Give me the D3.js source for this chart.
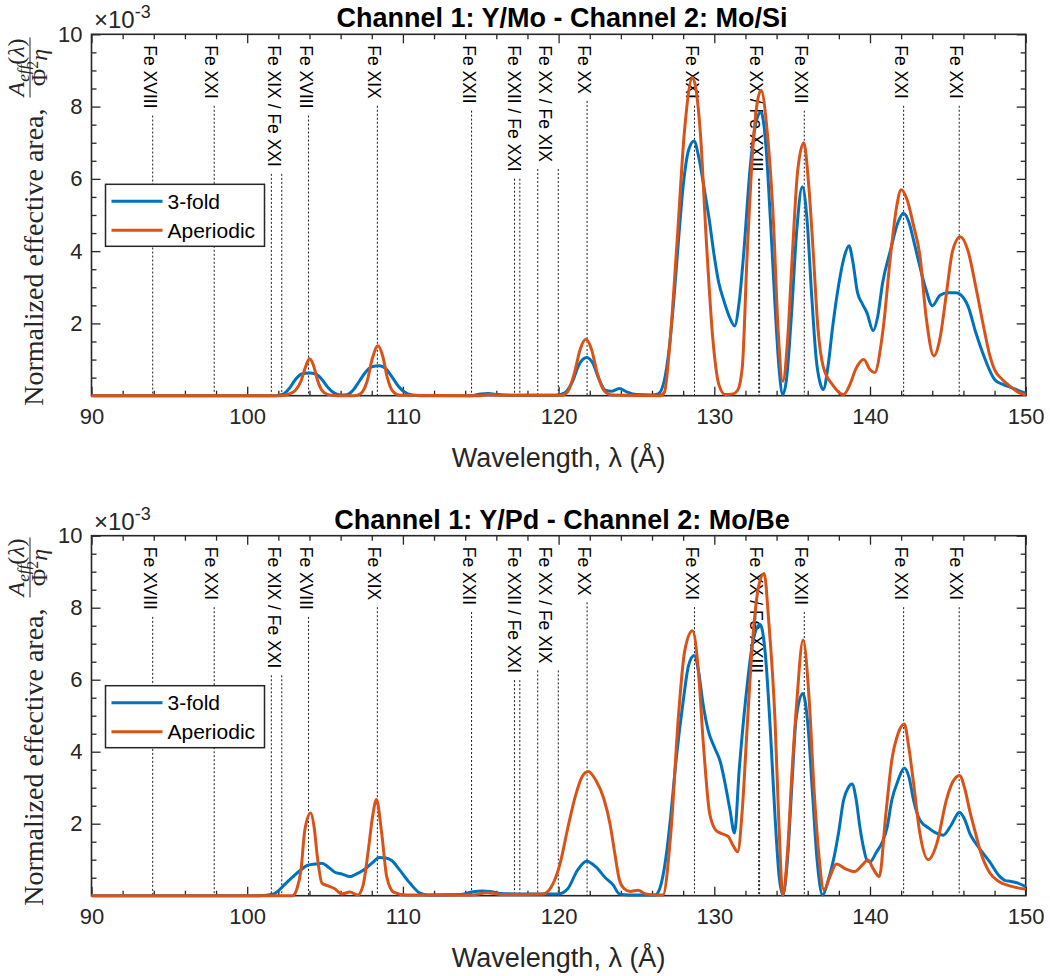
<!DOCTYPE html>
<html>
<head>
<meta charset="utf-8">
<script src="https://cdn.jsdelivr.net/npm/d3@7"></script>
<style>
body { margin: 0; background: #fff; }
svg text { font-family: "Liberation Sans", Arial, Helvetica, sans-serif; }
svg text.serif { font-family: "Liberation Serif", "Times New Roman", serif; }
</style>
</head>
<body>
<svg id="chart" width="1050" height="976"></svg>
<script>
// ---- data (values in units of 1e-3) ----
var panelTitles = ['Channel 1: Y/Mo - Channel 2: Mo/Si',
                   'Channel 1: Y/Pd - Channel 2: Mo/Be'];
var seriesNames = ['3-fold', 'Aperiodic'];
var xTicks = [90, 100, 110, 120, 130, 140, 150];
var yTicks = [2, 4, 6, 8, 10];

// Fe lines, wavelength(s) in angstrom and label
var lineWaves = [[93.93], [97.88], [101.55, 102.22], [103.94], [108.36], [114.41],
                 [117.17, 117.51], [118.66, 119.98], [121.83], [128.73],
                 [132.85, 132.91], [135.78], [142.16], [145.73]];
var lineNames = ['Fe XVIII', 'Fe XXI', 'Fe XIX / Fe XXI', 'Fe XVIII', 'Fe XIX', 'Fe XXII',
                 'Fe XXII / Fe XXI', 'Fe XX / Fe XIX', 'Fe XX', 'Fe XXI',
                 'Fe XX / Fe XXIII', 'Fe XXII', 'Fe XXI', 'Fe XXI'];

// top panel, Y/Mo - Mo/Si
var moSiFold = [[90,0],[101.8,0],[102.3,0.04],[102.7,0.2],[103.1,0.45],[103.5,0.6],[104.0,0.63],
  [104.4,0.6],[104.8,0.45],[105.2,0.22],[105.6,0.07],[106.0,0.02],[106.4,0.03],[106.8,0.15],
  [107.2,0.4],[107.6,0.65],[108.0,0.8],[108.5,0.83],[108.9,0.75],[109.3,0.52],[109.7,0.27],
  [110.1,0.1],[110.6,0.02],[111.2,0],[114.4,0],[115.0,0.05],[115.5,0.06],[116.1,0.03],[117,0.01],
  [119.8,0.01],[120.4,0.08],[120.9,0.4],[121.3,0.85],[121.8,1.06],[122.2,0.9],[122.6,0.45],
  [123.0,0.15],[123.4,0.12],[123.9,0.2],[124.4,0.1],[125,0.03],[126.0,0.02],[126.4,0.05],
  [126.8,0.44],[127.1,1.3],[127.4,2.65],[127.7,4.3],[128.0,5.8],[128.35,6.8],[128.7,7.05],
  [129.0,6.6],[129.4,5.6],[129.7,4.8],[129.95,4.0],[130.3,3.1],[130.6,2.65],[131.0,2.15],
  [131.3,1.93],[131.6,2.6],[131.9,4.0],[132.3,6.3],[132.7,7.6],[133.0,7.85],[133.3,7.0],
  [133.6,4.9],[133.9,2.5],[134.15,0.8],[134.4,0.03],[134.65,0.5],[134.95,2.2],[135.3,4.6],
  [135.65,5.78],[135.95,4.9],[136.25,2.8],[136.55,1.0],[136.8,0.35],[137.0,0.17],[137.3,0.8],
  [137.6,1.9],[138.0,3.1],[138.35,3.85],[138.65,4.15],[138.9,3.7],[139.2,2.85],[139.5,2.55],
  [139.8,2.3],[140.2,1.8],[140.5,2.2],[140.8,3.1],[141.3,4.0],[141.8,4.8],[142.15,5.05],
  [142.5,4.8],[142.8,4.3],[143.1,3.76],[143.6,2.93],[144.0,2.49],[144.5,2.78],[145.0,2.85],
  [145.5,2.85],[145.8,2.8],[146.3,2.47],[146.8,1.74],[147.4,1.0],[148.0,0.45],[148.5,0.32],
  [149.0,0.24],[149.5,0.15],[150,0.07]];
var moSiAper = [[90,0],[102.2,0],[102.7,0.05],[103.1,0.15],[103.45,0.4],[103.75,0.8],[104.0,1.02],
  [104.25,0.85],[104.5,0.45],[104.8,0.15],[105.2,0.03],[105.8,0],[106.9,0],[107.3,0.06],
  [107.7,0.4],[108.05,1.05],[108.4,1.38],[108.7,1.1],[109.0,0.5],[109.35,0.12],[109.8,0.01],
  [114.8,0],[115.5,0.03],[116.5,0.01],[120.2,0.01],[120.6,0.12],[121.0,0.6],[121.4,1.3],
  [121.75,1.56],[122.1,1.3],[122.5,0.6],[122.9,0.15],[123.4,0.02],[126.5,0],[126.8,0.1],
  [127.1,1.2],[127.6,4.2],[128.1,7.4],[128.6,8.8],[129.1,7.3],[129.5,4.2],[129.9,1.6],
  [130.3,0.3],[130.7,0.03],[131.2,0.05],[131.5,0.15],[131.8,0.8],[132.1,3.8],[132.5,7.0],
  [133.0,8.45],[133.4,7.3],[133.8,4.8],[134.1,1.8],[134.4,0.4],[134.7,1.5],[135.0,3.8],
  [135.35,6.2],[135.75,7.0],[136.05,5.9],[136.35,4.0],[136.65,1.9],[137.0,0.8],[137.6,0.3],
  [138.3,0.03],[138.7,0.3],[139.1,0.75],[139.6,1.0],[140.0,0.72],[140.3,0.64],[140.8,1.7],
  [141.35,4.0],[141.7,5.2],[142.0,5.7],[142.4,5.4],[142.8,4.7],[143.2,3.9],[143.6,2.2],
  [144.1,1.1],[144.5,1.6],[144.9,2.8],[145.3,4.0],[145.8,4.4],[146.3,4.0],[146.8,3.0],
  [147.3,1.9],[147.7,1.1],[148.0,0.72],[148.5,0.45],[149.0,0.26],[149.5,0.1],[150,0.02]];

// bottom panel, Y/Pd - Mo/Be
var moBeFold = [[90,0],[100.8,0],[101.7,0.05],[102.5,0.35],[103.0,0.55],[103.4,0.7],[103.9,0.85],
  [104.4,0.88],[104.8,0.9],[105.2,0.8],[105.6,0.66],[106.1,0.6],[106.6,0.53],[107.0,0.6],
  [107.5,0.72],[108.0,0.9],[108.5,1.06],[108.9,1.05],[109.3,0.97],[109.8,0.71],[110.45,0.35],
  [111.1,0.07],[111.6,0.02],[113.7,0.03],[114.4,0.1],[115.1,0.13],[115.6,0.12],[116.1,0.07],
  [117.3,0.05],[120.0,0.05],[120.6,0.2],[121.2,0.7],[121.8,0.96],[122.4,0.8],[123.0,0.5],
  [123.5,0.3],[123.9,0.05],[124.5,0.02],[126.2,0.02],[126.5,0.2],[126.9,1.08],[127.2,2.2],
  [127.5,3.57],[128.0,5.4],[128.35,6.4],[128.7,6.67],[129.0,6.2],[129.25,5.4],[129.6,4.6],
  [130.0,4.13],[130.4,3.7],[130.7,3.1],[131.0,2.4],[131.3,1.74],[131.6,3.5],[132.0,5.4],
  [132.5,7.1],[132.95,7.53],[133.3,6.6],[133.6,4.6],[133.9,2.2],[134.15,0.6],[134.4,0.02],
  [134.7,1.0],[135.0,3.2],[135.25,4.9],[135.68,5.62],[136.0,4.8],[136.3,2.9],[136.6,1.0],
  [136.96,0.02],[137.3,0.4],[137.65,0.99],[138.0,1.8],[138.3,2.65],[138.6,3.0],[138.85,3.1],
  [139.1,2.7],[139.35,1.91],[139.6,1.3],[139.8,0.99],[140.0,0.94],[140.4,1.2],[140.8,1.5],
  [141.1,1.9],[141.4,2.65],[141.8,3.2],[142.2,3.55],[142.5,3.3],[142.8,2.65],[143.2,2.1],
  [143.8,1.87],[144.2,1.75],[144.7,1.68],[145.2,1.95],[145.75,2.32],[146.1,2.1],[146.4,1.74],
  [146.8,1.45],[147.1,1.27],[147.7,0.93],[148.3,0.55],[148.7,0.42],[149.0,0.4],[149.5,0.35],
  [150,0.25]];
var moBeAper = [[90,0],[102.9,0],[103.2,0.2],[103.45,0.7],[103.7,1.82],[104.08,2.3],[104.3,1.9],
  [104.5,1.1],[104.8,0.35],[105.2,0.27],[105.6,0.2],[106.07,0.05],[106.6,0.1],[107.1,0.02],
  [107.45,0.3],[107.78,1.27],[108.05,2.19],[108.3,2.67],[108.64,1.73],[108.96,0.53],[109.4,0.1],
  [110.2,0.02],[114.5,0.02],[115.4,0.08],[116.5,0.03],[119.0,0.05],[119.66,0.35],[120.1,0.9],
  [120.6,1.9],[121.1,2.8],[121.5,3.3],[121.9,3.45],[122.4,3.2],[122.9,2.7],[123.3,2.0],
  [123.6,1.2],[123.9,0.45],[124.2,0.2],[124.6,0.12],[125.1,0.15],[125.6,0.05],[126.3,0.02],
  [126.7,0.02],[127.2,1.7],[127.7,5.0],[128.1,6.8],[128.6,7.36],[128.95,6.4],[129.3,4.2],
  [129.7,2.29],[130.1,1.82],[130.5,1.72],[130.9,1.64],[131.2,1.4],[131.5,1.22],[131.8,2.4],
  [132.1,4.6],[132.5,7.3],[132.85,8.6],[133.2,8.95],[133.5,7.6],[133.9,4.87],[134.15,2.0],
  [134.4,0.02],[134.7,1.2],[135.0,3.5],[135.3,5.4],[135.7,7.1],[136.1,5.4],[136.4,3.0],
  [136.7,1.2],[137.05,0.16],[137.4,0.5],[137.85,0.88],[138.4,0.75],[139.0,0.67],[139.5,0.85],
  [139.87,0.99],[140.2,0.75],[140.6,0.53],[141.0,2.19],[141.4,3.76],[141.8,4.5],[142.2,4.77],
  [142.5,4.1],[142.8,3.12],[143.2,1.74],[143.74,1.0],[144.3,1.46],[144.9,2.65],[145.3,3.15],
  [145.75,3.34],[146.1,2.95],[146.4,2.37],[146.8,1.7],[147.1,1.22],[147.7,0.63],[148.3,0.39],
  [149.1,0.26],[150,0.18]];

var colors = ['#0072BD', '#D95319'];
var axisColor = '#262626';

var svg = d3.select('#chart');
var xScale = d3.scaleLinear().domain([90, 150]).range([91.5, 1025.7]);

function range(a, b, step){
    var out = [];
    for (var v = a; v <= b + 1e-9; v += step) out.push(Math.round(v * 10) / 10);
    return out;
}

function styleAxis(g, labels){
    g.select('.domain').remove();
    g.selectAll('line').attr('stroke', axisColor).attr('stroke-width', 1.3);
    g.attr('font-family', null).attr('font-size', null);
    g.selectAll('text').attr('fill', axisColor).style('font-size', '22px');
    if (!labels) g.selectAll('text').remove();
}

function drawAxes(g, yScale, top, bottom){
    var left = xScale.range()[0], right = xScale.range()[1];
    var xMinor = range(90, 150, 2).filter(function(v){ return v % 10 !== 0; });
    var yMinor = range(0.5, 10, 0.5).filter(function(v){ return v % 2 !== 0; });

    // major + minor, on all four sides, pointing inward
    g.append('g').attr('transform', 'translate(0,' + bottom + ')')
        .call(d3.axisBottom(xScale).tickValues(xTicks).tickSize(-9).tickPadding(13))
        .call(styleAxis, true);
    g.append('g').attr('transform', 'translate(0,' + bottom + ')')
        .call(d3.axisBottom(xScale).tickValues(xMinor).tickSize(-5).tickFormat(''))
        .call(styleAxis, false);
    g.append('g').attr('transform', 'translate(0,' + top + ')')
        .call(d3.axisTop(xScale).tickValues(xTicks).tickSize(-9))
        .call(styleAxis, false);
    g.append('g').attr('transform', 'translate(0,' + top + ')')
        .call(d3.axisTop(xScale).tickValues(xMinor).tickSize(-5).tickFormat(''))
        .call(styleAxis, false);
    g.append('g').attr('transform', 'translate(' + left + ',0)')
        .call(d3.axisLeft(yScale).tickValues(yTicks).tickSize(-9).tickPadding(9))
        .call(styleAxis, true);
    g.append('g').attr('transform', 'translate(' + left + ',0)')
        .call(d3.axisLeft(yScale).tickValues(yMinor).tickSize(-5).tickFormat(''))
        .call(styleAxis, false);
    g.append('g').attr('transform', 'translate(' + right + ',0)')
        .call(d3.axisRight(yScale).tickValues(yTicks).tickSize(-9))
        .call(styleAxis, false);
    g.append('g').attr('transform', 'translate(' + right + ',0)')
        .call(d3.axisRight(yScale).tickValues(yMinor).tickSize(-5).tickFormat(''))
        .call(styleAxis, false);

    g.append('rect')
        .attr('x', left).attr('y', top)
        .attr('width', right - left).attr('height', bottom - top)
        .attr('fill', 'none').attr('stroke', axisColor).attr('stroke-width', 1.6);
}

function drawFeLines(g, top, bottom){
    lineNames.forEach(function(name, i){
        var waves = lineWaves[i];
        var xc = d3.mean(waves, function(w){ return xScale(w); }) - 3;
        var t = g.append('text')
            .attr('transform', 'translate(' + xc + ',' + (top + 11) + ') rotate(90)')
            .attr('dominant-baseline', 'central')
            .attr('fill', '#000')
            .style('font-size', '17.5px')
            .text(name);
        var len = t.node().getComputedTextLength();
        waves.forEach(function(w){
            g.append('line')
                .attr('x1', xScale(w)).attr('x2', xScale(w))
                .attr('y1', top + 11 + len + 7).attr('y2', bottom)
                .attr('stroke', '#000').attr('stroke-width', 0.9)
                .attr('stroke-dasharray', '2,2');
        });
    });
}

function drawYLabel(g, bottom){
    var lab = g.append('g')
        .attr('transform', 'translate(43,' + (bottom + 10) + ') rotate(-90)')
        .attr('fill', axisColor);
    var main = lab.append('text').attr('class', 'serif').style('font-size', '28px')
        .text('Normalized effective area,');
    var len = main.node().getComputedTextLength();

    // fraction A_eff(lambda) / (Phi^2 eta)
    var num = lab.append('text').attr('class', 'serif').attr('y', -19).attr('text-anchor', 'middle')
        .style('font-size', '24px').style('font-style', 'italic');
    num.append('tspan').text('A');
    num.append('tspan').attr('dy', 5).style('font-size', '17px').text('eff');
    num.append('tspan').attr('dy', -5).style('font-style', 'normal').text('(');
    num.append('tspan').text('λ');
    num.append('tspan').style('font-style', 'normal').text(')');
    var numLen = num.node().getComputedTextLength();
    var cx = len + 12 + numLen / 2;
    num.attr('x', cx);

    lab.append('line')
        .attr('x1', cx - numLen / 2 - 1).attr('x2', cx + numLen / 2 + 1)
        .attr('y1', -13).attr('y2', -13)
        .attr('stroke', axisColor).attr('stroke-width', 1);

    var den = lab.append('text').attr('class', 'serif').attr('x', cx).attr('y', 4)
        .attr('text-anchor', 'middle').style('font-size', '24px');
    den.append('tspan').text('Φ');
    den.append('tspan').attr('dy', -9).style('font-size', '16px').text('2');
    den.append('tspan').attr('dy', 9).style('font-style', 'italic').text('η');
}

function drawLegend(g, x0, y0){
    var box = g.append('g').attr('transform', 'translate(' + x0 + ',' + y0 + ')');
    box.append('rect')
        .attr('width', 159).attr('height', 62)
        .attr('fill', '#fff').attr('stroke', axisColor).attr('stroke-width', 1.5);
    seriesNames.forEach(function(name, i){
        var yy = 17 + i * 29;
        box.append('line')
            .attr('x1', 6).attr('x2', 57).attr('y1', yy).attr('y2', yy)
            .attr('stroke', colors[i]).attr('stroke-width', 3);
        box.append('text')
            .attr('x', 62).attr('y', yy).attr('dy', '0.36em')
            .attr('fill', '#000').style('font-size', '21px')
            .text(name);
    });
}

function drawPanel(top, bottom, title, fold, aper){
    var g = svg.append('g');
    var yScale = d3.scaleLinear().domain([0, 10]).range([bottom, top]);

    drawFeLines(g, top, bottom);
    drawAxes(g, yScale, top, bottom);

    var line = d3.line()
        .x(function(d){ return xScale(d[0]); })
        .y(function(d){ return yScale(d[1]); })
        .curve(d3.curveMonotoneX);

    [fold, aper].forEach(function(data, i){
        g.append('path')
            .datum(data)
            .attr('d', line)
            .attr('fill', 'none')
            .attr('stroke', colors[i])
            .attr('stroke-width', 3)
            .attr('stroke-linejoin', 'round');
    });

    drawLegend(g, 105.5, top + 150);

    // title, exponent and axis labels
    g.append('text')
        .attr('x', 562).attr('y', top - 7)
        .attr('text-anchor', 'middle')
        .attr('fill', '#000')
        .style('font-size', '27px').style('font-weight', 'bold')
        .text(title);

    var ex = g.append('text').attr('x', 94).attr('y', top - 6)
        .attr('fill', axisColor).style('font-size', '24px');
    ex.append('tspan').text('×10');
    ex.append('tspan').attr('dy', -10).style('font-size', '18px').text('-3');

    g.append('text')
        .attr('x', 558.6).attr('y', bottom + 71)
        .attr('text-anchor', 'middle')
        .attr('fill', axisColor)
        .style('font-size', '27px')
        .text('Wavelength, λ (Å)');

    drawYLabel(g, bottom);
}

drawPanel(34.3, 395.7, panelTitles[0], moSiFold, moSiAper);
drawPanel(535.7, 895.7, panelTitles[1], moBeFold, moBeAper);
</script>
</body>
</html>
